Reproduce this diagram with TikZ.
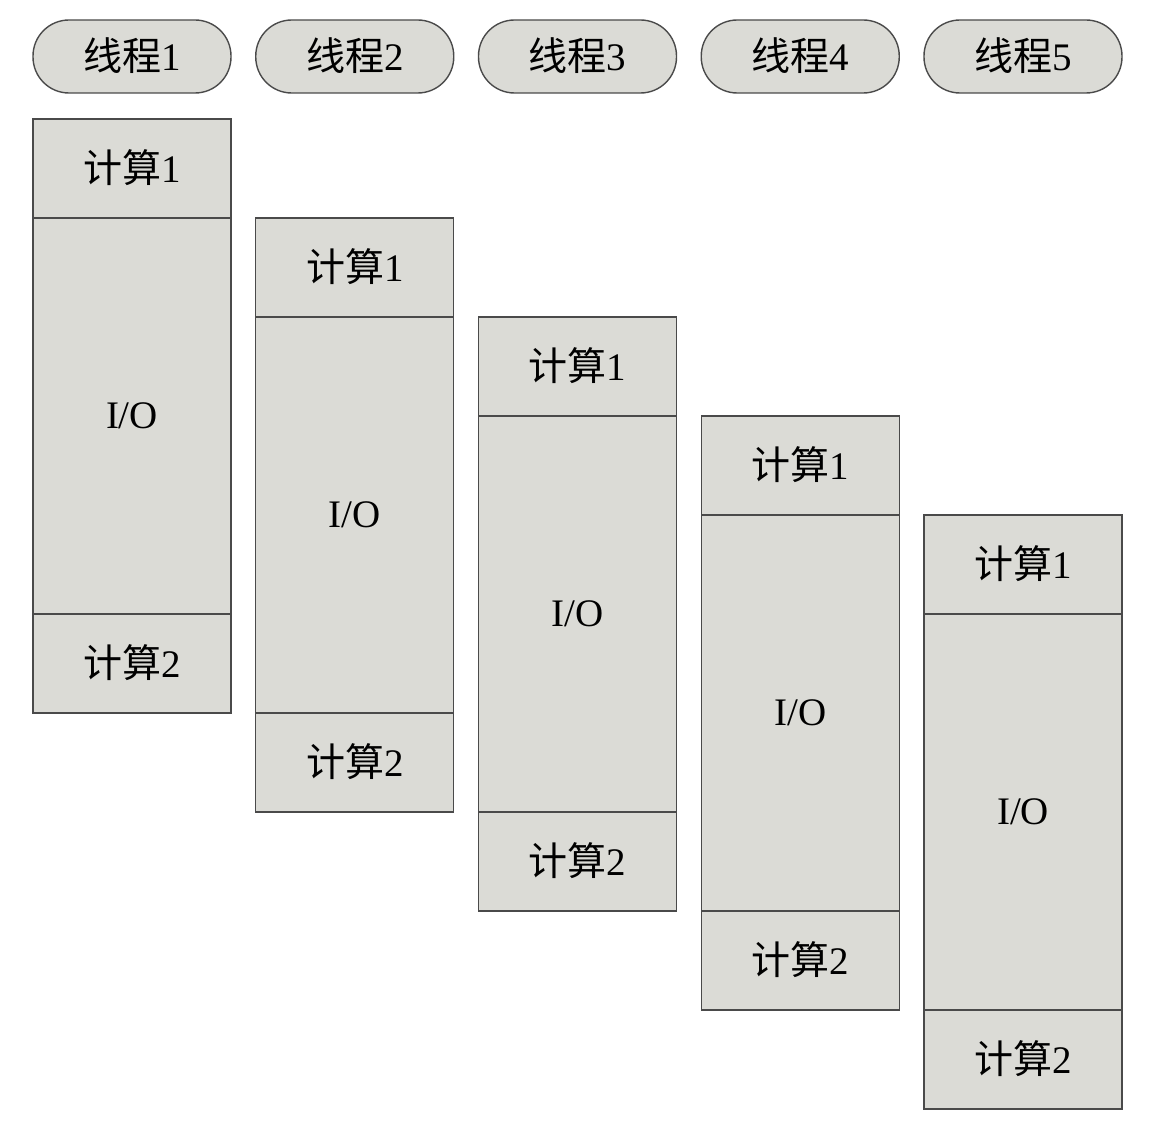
\documentclass[tikz,border=0pt]{standalone}
\usepackage{fontspec}
\setmainfont{Liberation Serif}
\newfontfamily\cjk{Noto Sans CJK SC}
\usetikzlibrary{shapes.misc}
\definecolor{boxfill}{HTML}{DBDBD6}
\definecolor{boxline}{HTML}{4A4A4A}
\tikzset{
  pill/.style={draw=boxline, fill=boxfill, line width=1.4pt, rounded corners=36pt},
  blockbox/.style={draw=boxline, fill=boxfill, line width=1.4pt},
  lbl/.style={font=\fontsize{39}{42}\selectfont, text=black, inner sep=0pt}
}
\begin{document}
\begin{tikzpicture}[x=1pt,y=-1pt]
\useasboundingbox (0,0) rectangle (1168,1134);
\foreach \i in {1,...,5}{
  \pgfmathsetmacro{\xl}{33+222.75*(\i-1)}
  \pgfmathsetmacro{\xr}{\xl+198}
  \pgfmathsetmacro{\xc}{\xl+99}
  \pgfmathsetmacro{\yt}{119+99*(\i-1)}
  \pgfmathsetmacro{\ya}{\yt+99}
  \pgfmathsetmacro{\yb}{\ya+396}
  \pgfmathsetmacro{\yc}{\yb+99}
  \draw[pill] (\xl,20) rectangle (\xr,93);
  \node[lbl] (t\i) at (\xc,56) {{\cjk 线程}\i};
  \draw[blockbox] (\xl,\yt) rectangle (\xr,\ya);
  \draw[blockbox] (\xl,\ya) rectangle (\xr,\yb);
  \draw[blockbox] (\xl,\yb) rectangle (\xr,\yc);
  \node[lbl] (c\i a) at (\xc,{(\yt+\ya)/2-1}) {{\cjk 计算}1};
  \node[lbl] (io\i) at (\xc,{(\ya+\yb)/2}) {I/O};
  \node[lbl] (c\i b) at (\xc,{(\yb+\yc)/2-1}) {{\cjk 计算}2};
}
\end{tikzpicture}
\end{document}
